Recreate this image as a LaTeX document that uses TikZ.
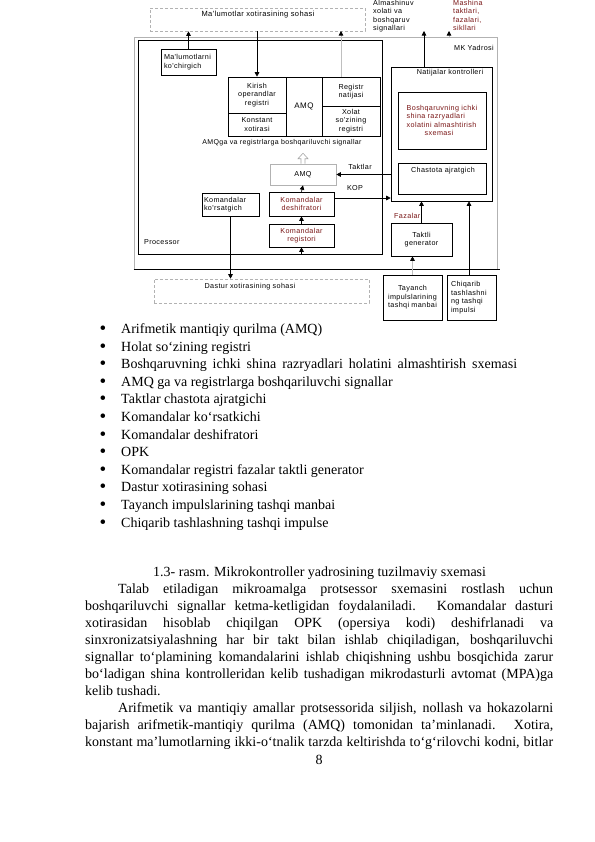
\documentclass[tikz,border=0pt]{standalone}
\usepackage{fontspec}
\setmainfont{Liberation Serif}
\newfontfamily\dfont[LetterSpace=5]{Liberation Sans}
\usetikzlibrary{arrows.meta}
\definecolor{dred}{RGB}{120,20,20}
\begin{document}
\begin{tikzpicture}[x=1bp,y=-1bp,
  dtxt/.style={font=\dfont\fontsize{7.2bp}{8.5bp}\selectfont, inner sep=0pt},
  box/.style={draw, line width=0.6bp, dtxt, align=center},
  dbox/.style={draw=gray!60, line width=0.6bp, dash pattern=on 3bp off 2bp, inner sep=0pt},
  arr/.style={-{Triangle[width=4.5bp,length=4.5bp]}, line width=0.7bp},
  garr/.style={-{Triangle[width=4.5bp,length=4.5bp,color=black]}, draw=gray!50, line width=0.7bp},
  btxt/.style={font=\fontsize{14bp}{17bp}\selectfont, inner sep=0pt, anchor=base west},
  bult/.style={font=\fontsize{19bp}{17bp}\selectfont, inner sep=0pt, anchor=base},
]
\useasboundingbox (0,0) rectangle (595,842);

% ---------- frames ----------
\node[draw=gray!60, line width=0.6bp, minimum width=363bp, minimum height=232bp, inner sep=0pt] (mk) at (315.5,153) {};
\draw[line width=0.7bp] (mk.south west) -- ([xshift=3bp]mk.south east);
\node[draw, line width=0.6bp, minimum width=244bp, minimum height=214bp, inner sep=0pt] (proc) at (260,147) {};
\node[dtxt] (mkt) at (474,48) {MK Yadrosi};
\node[dtxt, anchor=west] (proct) at (144,242) {Processor};

\node[dbox, minimum width=215bp, minimum height=23bp] (mx) at (257.5,19.5) {};
\node[dtxt, font=\dfont\fontsize{7.5bp}{8.5bp}\selectfont] (mxt) at (258,15) {Ma'lumotlar xotirasining sohasi};
\node[dbox, minimum width=215bp, minimum height=24bp] (dx) at (261.5,291) {};
\node[dtxt] (dxt) at (250,287) {Dastur xotirasining sohasi};

% ---------- top labels ----------
\node[dtxt, anchor=north west, align=left] (alm) at (373,0) {Almashinuv\\xolati va\\boshqaruv\\signallari};
\node[dtxt, anchor=north west, align=left, text=dred] (mash) at (453,0) {Mashina\\taktlari,\\fazalari,\\sikllari};

% ---------- processor content ----------
\node[box, align=left, text width=49bp, inner xsep=3bp, minimum height=26bp] (mk1) at (188.5,62) {Ma'lumotlarni\\ko'chirgich};

\node[box, minimum width=58bp, minimum height=36bp] (kirish) at (257,95) {Kirish\\operandlar\\registri};
\node[box, minimum width=58bp, minimum height=23bp] (konst) at (257,124.5) {Konstant\\xotirasi};
\node[box, minimum width=36bp, minimum height=59bp, font=\dfont\fontsize{8bp}{9bp}\selectfont] (amqb) at (304,106.5) {AMQ};
\node[box, minimum width=58bp, minimum height=29bp] (regnat) at (351,91.5) {Registr\\natijasi};
\node[box, minimum width=58bp, minimum height=30bp] (xolat) at (351,121) {Xolat\\so'zining\\registri};
\node[dtxt, font=\dfont\fontsize{7bp}{8bp}\selectfont] (sigl) at (282,143) {AMQga va registrlarga boshqariluvchi signallar};

\node[box, draw=gray!60, minimum width=66bp, minimum height=21bp] (amqs) at (303,174.5) {AMQ};
\draw[gray!70, line width=0.6bp] ([xshift=-2bp]amqs.north) -- ++(0,-5) -- ++(-3,0) -- ++(5,-5.5) -- ++(5,5.5) -- ++(-3,0) -- ++(0,5);

\node[box, align=left, text width=53bp, inner xsep=2bp, minimum height=23bp] (kk) at (230.5,204.5) {Komandalar\\ko'rsatgich};
\node[box, minimum width=65bp, minimum height=24bp, text=dred] (kd) at (301.5,204) {Komandalar\\deshifratori};
\node[box, minimum width=65bp, minimum height=23bp, text=dred] (kr) at (301.5,235.5) {Komandalar\\registori};

\node[dtxt] (taktl) at (360,167) {Taktlar};
\node[dtxt] (kopl) at (355,188) {KOP};

% ---------- right part ----------
\node[draw, line width=0.6bp, minimum width=101bp, minimum height=134bp, inner sep=0pt] (nk) at (441.5,134) {};
\node[dtxt] (nkt) at (450,73) {Natijalar kontrolleri};
\node[box, align=left, minimum width=88bp, minimum height=57bp, text=dred] (bq) at (442,120.5) {Boshqaruvning ichki\\shina razryadlari\\xolatini almashtirish\\\hspace*{18bp}sxemasi};
\node[draw, line width=0.6bp, minimum width=88bp, minimum height=31bp, inner sep=0pt] (ch) at (442,178.5) {};
\node[dtxt] (cht) at (443,171) {Chastota ajratgich};

\node[dtxt, anchor=west, text=dred] (faz) at (394,216) {Fazalar};
\node[box, minimum width=61bp, minimum height=33bp] (tg) at (421.5,239.5) {Taktli\\generator};
\node[box, minimum width=59bp, minimum height=45bp] (ta) at (412.5,297.5) {Tayanch\\impulslarining\\tashqi manbai};
\node[box, align=left, text width=41bp, inner xsep=4bp, minimum height=45bp] (ci) at (471.5,297.5) {Chiqarib\\tashlashni\\ng tashqi\\impulsi};

% ---------- connectors ----------
\draw[arr] (mk1.north) -- (mk1.north |- mx.south);
\draw[arr] (kirish.north |- mx.south) -- (kirish.north);
\coordinate (up1) at (341,31);
\coordinate (up2) at (424,31);
\coordinate (up3) at (449,31);
\draw[garr] (regnat.north -| up1) -- (up1);
\draw[arr] (nk.north -| up2) -- (up2);
\draw[garr] (mk.north -| up3) -- (up3);
\draw[arr] (kk.south) -- (kk.south |- dx.north);
\draw[arr] (kr.north) -- (kd.south);
\draw[arr] (kd.north) -- (amqs.south);
\draw[arr] (kr.south |- proc.south) -- (kr.south);
\draw[arr] (nk.west |- amqs.east) -- (amqs.east);
\coordinate (kop) at ([yshift=6bp]kd.east);
\draw[arr] (kop) -- (kop -| nk.west);
\draw[arr] (tg.north) -- (tg.north |- nk.south);
\coordinate (cin) at ([xshift=-2.5bp]ci.north);
\draw[arr] (cin) -- (cin |- nk.south);
\draw[garr] (ta.north) -- (ta.north |- tg.south);

% ---------- text below ----------
\foreach \t [count=\i] in {Arifmetik mantiqiy qurilma (AMQ),Holat so‘zining registri,{\makebox[396bp][s]{Boshqaruvning ichki shina razryadlari holatini almashtirish sxemasi}},AMQ ga va registrlarga boshqariluvchi signallar,Taktlar chastota ajratgichi,Komandalar ko‘rsatkichi,Komandalar deshifratori,OPK,Komandalar registri fazalar taktli generator,Dastur xotirasining sohasi,Tayanch impulslarining tashqi manbai,Chiqarib tashlashning tashqi impulse}{
  \node[bult] (b\i) at (103,{334.5+17.6*(\i-1)}) {•};
  \node[btxt] (l\i) at (121,{333.5+17.6*(\i-1)}) {\t};
}
\node[btxt] (cap) at (153,576.5) {1.3- rasm. Mikrokontroller yadrosining tuzilmaviy sxemasi};
\node[btxt] (p1) at (118,593.5) {\makebox[435bp][s]{Talab etiladigan mikroamalga protsessor sxemasini rostlash uchun}};
\node[btxt] (p2) at (85,610.5) {\makebox[468bp][s]{boshqariluvchi signallar ketma-ketligidan foydalaniladi. Komandalar dasturi}};
\node[btxt] (p3) at (85,627.5) {\makebox[468bp][s]{xotirasidan hisoblab chiqilgan OPK (opersiya kodi) deshifrlanadi va}};
\node[btxt] (p4) at (85,644.5) {\makebox[468bp][s]{sinxronizatsiyalashning har bir takt bilan ishlab chiqiladigan, boshqariluvchi}};
\node[btxt] (p5) at (85,661.5) {\makebox[468bp][s]{signallar to‘plamining komandalarini ishlab chiqishning ushbu bosqichida zarur}};
\node[btxt] (p6) at (85,678.5) {\makebox[468bp][s]{bo‘ladigan shina kontrolleridan kelib tushadigan mikrodasturli avtomat (MPA)ga}};
\node[btxt] (p7) at (85,695.5) {kelib tushadi.};
\node[btxt] (p8) at (118,712.5) {\makebox[435bp][s]{Arifmetik va mantiqiy amallar protsessorida siljish, nollash va hokazolarni}};
\node[btxt] (p9) at (85,729.5) {\makebox[468bp][s]{bajarish arifmetik-mantiqiy qurilma (AMQ) tomonidan ta’minlanadi. Xotira,}};
\node[btxt] (p10) at (85,746.5) {\makebox[468bp][s]{konstant ma’lumotlarning ikki-o‘tnalik tarzda keltirishda to‘g‘rilovchi kodni, bitlar}};
\node[btxt, anchor=base] (pg) at (319,764.5) {8};
\end{tikzpicture}
\end{document}
